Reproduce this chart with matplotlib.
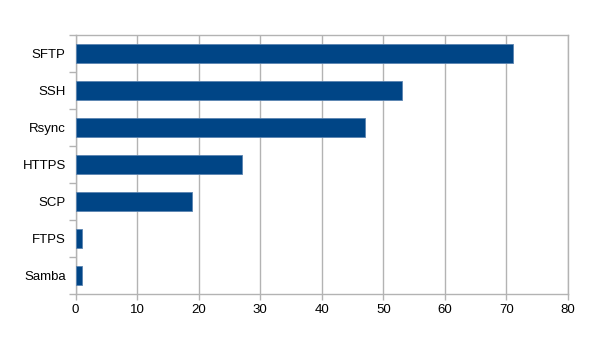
import matplotlib
matplotlib.use("Agg")
import matplotlib.pyplot as plt
import numpy as np

categories = ["SFTP", "SSH", "Rsync", "HTTPS", "SCP", "FTPS", "Samba"]
values = [71, 53, 47, 27, 19, 1, 1]
xticks = [0, 10, 20, 30, 40, 50, 60, 70, 80]

plt.rcParams['font.family'] = ['Liberation Sans', 'DejaVu Sans']
W, H = 616, 364
fig = plt.figure(figsize=(W/100, H/100), dpi=100)
ax = fig.add_axes([75.5/W, 1 - 294/H, (568-75.5)/W, (294-35)/H])

n = len(categories)
ypos = np.arange(n)[::-1]
ax.barh(ypos, values, height=0.51, color='#004586', edgecolor='#5b84b1', linewidth=0.6, zorder=3)

ax.set_xlim(0, 80)
ax.set_ylim(-0.5, n - 0.5)
ax.set_xticks(xticks)
ax.set_xticklabels([str(t) for t in xticks], fontsize=9.5)
ax.set_yticks(ypos)
ax.set_yticklabels(categories, fontsize=9.5)
ax.set_yticks(np.arange(-0.5, n, 1.0), minor=True)
ax.tick_params(axis='y', which='major', length=0, pad=7)
ax.tick_params(axis='y', which='minor', length=5, color='#b3b3b3', width=1)
ax.tick_params(axis='x', length=4, color='#b3b3b3', width=1, pad=3)
ax.xaxis.grid(True, color='#b3b3b3', linewidth=1, zorder=0)
ax.set_axisbelow(True)
for s in ax.spines.values():
    s.set_color('#b3b3b3')
    s.set_linewidth(1)

fig.savefig("out.png", dpi=100)
